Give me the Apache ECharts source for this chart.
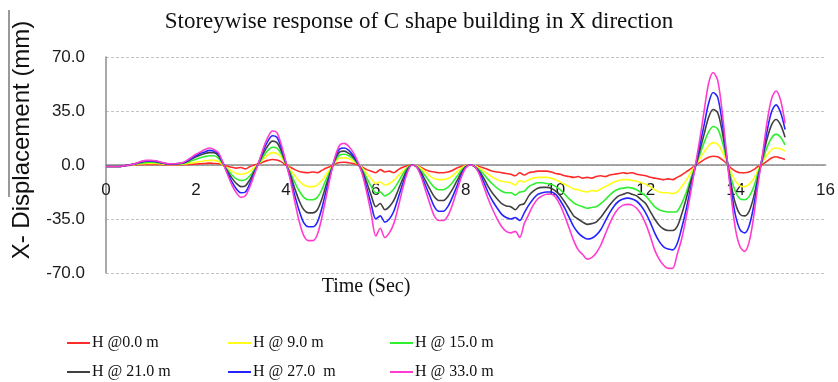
<!DOCTYPE html>
<html lang="en">
<head>
    <meta charset="UTF-8">
    <title>Storeywise response</title>
    <script src="https://cdn.jsdelivr.net/npm/echarts@6/dist/echarts.min.js"></script>
</head>
<body style="margin:0; background:#fff">
<div id="main" style="width:838px; height:382px"></div>
<script>
    // sampled every 0.1 sec from t = 0.0
    var names = ['H @0.0 m', 'H @ 9.0 m', 'H @ 15.0 m', 'H @ 21.0 m', 'H @ 27.0  m', 'H @ 33.0 m'];
    var colors = ['#ff2a2a', '#ffff1a', '#2ef02e', '#404040', '#2424ff', '#ff3ccf'];

    var h0 = [
        -1, -1, -1, -1, -0.5, -0.3, 0, 0.2, 0.3, 0.4,
        0.4, 0.4, 0.3, 0.2, 0.1, 0.1, 0.1, 0.2, 0.3, 0.5,
        0.6, 0.8, 1, 1.2, 1, 0.8, 0, -0.8, -1.5, -2,
        -1.6, -2.5, -1, 0, 0.8, 2, 3, 3.6, 3.2, 2,
        0, -1.5, -3, -4.2, -4.8, -5, -4.5, -5, -3.5, -2,
        -0.8, 0.8, 1.6, 1.8, 1.5, 1, 0, -1.5, -3, -4,
        -5, -3, -4.5, -4, -5, -3, -1.5, -0.5, 0, -0.5,
        -1.5, -3, -4, -4.5, -5, -5, -4.5, -3.5, -2, -1,
        -0.3, 0, -0.5, -1, -2, -3, -4, -4.5, -5, -5.5,
        -6, -7, -5, -6.5, -5, -4.5, -4, -4, -4, -4.5,
        -5.5, -6, -7, -7.5, -8, -7.5, -8.5, -8, -8.5, -7.5,
        -7, -7.5, -6.5, -6, -5.5, -5, -5.5, -5, -6, -6.5,
        -7, -8, -8.5, -9, -9.5, -9, -9.5, -8, -6.5, -4.5,
        -2.5, -0.3, 1.5, 3.5, 5, 5.7, 5.3, 3.5, 1, -2,
        -4, -5, -5, -4.5, -3, -1, 0.5, 2.5, 4.5, 5.3,
        4.5, 3.6
    ];
    var h9 = [
        -1, -1, -1, -1, -0.5, 0, 0.2, 0.5, 0.8, 1,
        1, 1, 0.8, 0.5, 0.3, 0.3, 0.4, 0.5, 0.8, 1.3,
        1.8, 2.3, 2.8, 3, 3, 2.3, 0, -2, -4, -5.5,
        -6, -5.5, -4, -1.5, 1, 4, 6.5, 8, 7.5, 5,
        0.5, -3, -7, -10.5, -13, -14, -14, -13, -10, -6,
        -2, 2, 4.5, 4.6, 4, 2.5, 0.5, -2, -5.5, -9,
        -12, -11, -13, -12, -10, -7, -4, -1.5, 0, -0.5,
        -2, -4.5, -7, -8.8, -9.5, -9.5, -8.8, -7, -4.5, -2,
        -0.5, 0, -0.5, -2, -4, -6, -8, -9.5, -10.5, -11,
        -11.5, -13, -10, -11, -9.5, -8.5, -8, -8, -8, -8.5,
        -9.5, -11, -12.5, -14, -15.5, -16, -17, -17.5, -16.5, -17,
        -15.5, -14, -12.5, -11, -10, -9.5, -9.5, -10, -10.5, -11.5,
        -12.5, -14, -16, -17.5, -18, -18, -18.5, -17.5, -14, -10,
        -5, -0.5, 4, 8.5, 12.5, 14.5, 13.5, 9, 2, -5,
        -10.5, -13.5, -14, -12.5, -9, -3, 2, 6.5, 10, 11,
        10.5, 9
    ];
    var h15 = [
        -1, -1, -1, -1, -0.5, 0, 0.3, 0.9, 1.4, 1.7,
        1.8, 1.7, 1.3, 0.8, 0.5, 0.5, 0.6, 0.9, 1.6, 2.7,
        3.8, 4.7, 5.5, 6, 6, 4.5, 0.5, -3, -6.5, -9,
        -10, -9.5, -7, -3, 1, 5.5, 9.5, 11.5, 11, 7,
        0.5, -5, -11.5, -17, -21, -22.5, -22.5, -21, -16, -9,
        -3, 3, 6.5, 7, 6, 4, 0.5, -3, -8.5, -14,
        -18, -17.5, -20, -18.5, -15.5, -11, -6, -2, 0, -1,
        -3.5, -7, -11, -14.5, -16, -16, -14.5, -11.5, -7.5, -3.5,
        -1, 0, -1, -3, -6, -9.5, -12.5, -15, -17, -18,
        -18, -19.5, -17.5, -17, -14, -12.5, -11.5, -11.5, -12, -12.5,
        -14, -16, -19, -22, -24.5, -26, -27, -28, -27.5, -27,
        -25, -22.5, -19.5, -17, -15.5, -15, -14.5, -15, -16, -18,
        -20, -23.5, -27, -29, -30, -30.5, -30.5, -30, -25, -18,
        -9, -1, 6.5, 14.5, 21.5, 25, 23.5, 15.5, 3.5, -8.5,
        -17.5, -22, -22.5, -20.5, -14.5, -5, 3, 11.5, 17.5, 20,
        18, 13
    ];
    var h21 = [
        -1, -1, -1, -1, -0.5, 0, 0.5, 1.2, 2, 2.4,
        2.5, 2.3, 1.7, 1, 0.7, 0.7, 0.8, 1.2, 2.2, 3.8,
        5.3, 6.5, 7.5, 8, 8, 6, 1, -4, -8.5, -12,
        -14, -13.5, -9.5, -4, 1.5, 7.5, 12.5, 15.5, 14.5, 9,
        1, -6.5, -15.5, -23.5, -29, -31, -31, -29, -22, -12.5,
        -4, 4, 8.5, 9, 7.5, 5, 1, -4, -11.5, -20,
        -27, -25, -29, -27, -23, -16, -9, -3, 0, -1,
        -4.5, -10, -15.5, -20.5, -23, -23, -20.5, -16, -10.5, -5,
        -1, 0, -1, -4, -8.5, -14, -18.5, -22, -25, -26.5,
        -27, -29, -26, -25, -20, -17, -15, -14.5, -14.5, -15,
        -17, -20, -24, -28.5, -33, -35, -37, -38.5, -38, -37,
        -34, -30, -26, -22.5, -20, -19, -18, -19, -20, -22.5,
        -25, -30, -35, -39, -41.5, -42.5, -42.5, -40, -32, -22,
        -11, -2, 9, 20, 31, 36, 34, 22, 5, -12.5,
        -25.5, -32, -33, -30, -21, -7.5, 4.5, 17, 26, 29.5,
        26, 18
    ];
    var h27 = [
        -1, -1, -1, -1, -0.5, 0, 0.5, 1.3, 2.2, 2.6,
        2.7, 2.5, 1.8, 1.1, 0.7, 0.7, 0.9, 1.3, 2.5, 4.3,
        6, 7.5, 8.5, 9.5, 9, 7, 1.5, -5, -11, -15.5,
        -18, -17.5, -12, -5, 2, 9.5, 15.5, 19, 18, 11,
        1.5, -8.5, -20, -30, -37.5, -40, -40, -37, -28, -16,
        -5, 5, 10.5, 11, 9.5, 6, 1.5, -5, -15, -26,
        -35, -33, -37, -35, -30, -21, -12, -4, 0, -1,
        -6, -13, -20, -27, -30, -30, -27, -21, -14, -6.5,
        -1.5, 0, -1, -5, -11, -18, -23.5, -28, -32, -34,
        -35, -34, -36, -31, -26, -22, -19, -18, -17.5, -17.5,
        -19, -23, -28, -34, -40, -44, -46.5, -48, -47.5, -45.5,
        -42, -36.5, -31, -26.5, -23.5, -22, -21.5, -22, -23.5, -26.5,
        -31, -37, -44, -49.5, -53, -54.5, -55, -51, -41, -29,
        -15, -1.5, 12, 26, 40, 47, 44, 28, 6, -16,
        -33, -42, -44, -39.5, -27, -9.5, 6, 22, 34.5, 39,
        34, 23
    ];
    var h33 = [
        -1, -1, -1, -1, -0.5, 0, 0.5, 1.5, 2.5, 3,
        3, 2.8, 2, 1.2, 0.8, 0.8, 1, 1.5, 3, 5,
        7, 8.5, 10, 11, 10, 8, 1.5, -6, -13, -18,
        -21, -20, -14, -6, 2, 11, 18, 22, 21, 13,
        2, -10, -24, -37, -46, -49, -49, -45, -34, -20,
        -6, 6, 13, 14, 12, 8, 2, -6, -18, -32,
        -46, -41, -47, -44, -38, -27, -15, -5, 0, -1,
        -7, -16, -25, -33, -36, -36, -33, -26, -17, -8,
        -2, 0, -1, -6, -14, -22, -29, -35, -40, -43,
        -44, -43, -47, -38, -32, -26, -22, -20, -19, -19,
        -21, -26, -33, -41, -49, -55, -58, -61, -60, -57,
        -52, -45, -38, -32, -28, -26, -25.5, -26, -28, -32,
        -38, -46, -55, -61, -65, -67, -67, -58, -48, -34,
        -18, -1, 16, 35, 53, 60, 55, 35, 7, -20,
        -42, -53, -56, -50, -34, -12, 7, 28, 43, 48,
        42, 27
    ];
    var yTicks = [-70, -35, 0, 35, 70];

    var storeys = [h0, h9, h15, h21, h27, h33];
    var time = h0.map(function (v, i) { return +(i * 0.1).toFixed(1); });

    var myChart = echarts.init(document.getElementById('main'));

    var series = [];
    var legendPos = [[67, 335], [228, 335], [390, 335], [67, 364], [228, 364], [390, 364]];
    var legends = [];
    storeys.forEach(function (arr, k) {
        series.push({
            name: names[k],
            type: 'line',
            showSymbol: false,
            smooth: 0.3,
            lineStyle: {width: 1.6, color: colors[k]},
            itemStyle: {color: colors[k]},
            data: arr.map(function (v, i) { return [time[i], v]; })
        });
        legends.push({
            data: [names[k]],
            left: legendPos[k][0],
            top: legendPos[k][1],
            padding: 0,
            icon: 'rect',
            itemWidth: 23,
            itemHeight: 2,
            textStyle: {fontFamily: 'Liberation Serif', fontSize: 16, color: '#111', padding: [0, 0, 0, -3]}
        });
    });

    // plot is 216px tall, so 0 sits 108px above the bottom edge
    var option = {
        animation: false,
        backgroundColor: '#fff',
        title: {
            text: 'Storeywise response of C shape building in X direction',
            left: 'center',
            top: 5,
            textStyle: {fontFamily: 'Liberation Serif', fontSize: 23, fontWeight: 'normal', color: '#111'}
        },
        legend: legends,
        grid: {left: 106, right: 8, top: 57, bottom: 109, containLabel: false},
        xAxis: {
            type: 'value',
            min: 0,
            max: 16,
            interval: 2,
            offset: -108,
            axisLine: {onZero: false, lineStyle: {color: '#8c8c8c', width: 1.5}},
            axisTick: {show: false},
            splitLine: {show: false},
            axisLabel: {margin: 17, fontFamily: 'Liberation Sans', fontSize: 17, color: '#1a1a1a'}
        },
        yAxis: {
            type: 'value',
            min: yTicks[0],
            max: yTicks[yTicks.length - 1],
            interval: 35,
            axisLine: {show: true, lineStyle: {color: '#8c8c8c', width: 1.5}},
            axisTick: {show: false},
            splitLine: {lineStyle: {color: '#c4c4c4', type: [3, 2]}},
            axisLabel: {
                margin: 21, fontFamily: 'Liberation Sans', fontSize: 17, color: '#1a1a1a',
                formatter: function (v) { return v.toFixed(1); }
            }
        },
        graphic: [
            {
                type: 'text',
                x: 22, y: 140,
                rotation: Math.PI / 2,
                style: {
                    text: 'X- Displacement (mm)', fontFamily: 'Liberation Sans', fontSize: 24,
                    fill: '#111', textAlign: 'center', textVerticalAlign: 'middle'
                }
            },
            {
                type: 'text',
                x: 366, y: 287,
                style: {
                    text: 'Time (Sec)', fontFamily: 'Liberation Serif', fontSize: 20,
                    fill: '#111', textAlign: 'center', textVerticalAlign: 'middle'
                }
            },
            {
                type: 'line',
                shape: {x1: 9, y1: 10, x2: 9, y2: 197},
                style: {stroke: '#777', lineWidth: 1.5}
            }
        ],
        series: series
    };
    myChart.setOption(option);
</script>
</body>
</html>
